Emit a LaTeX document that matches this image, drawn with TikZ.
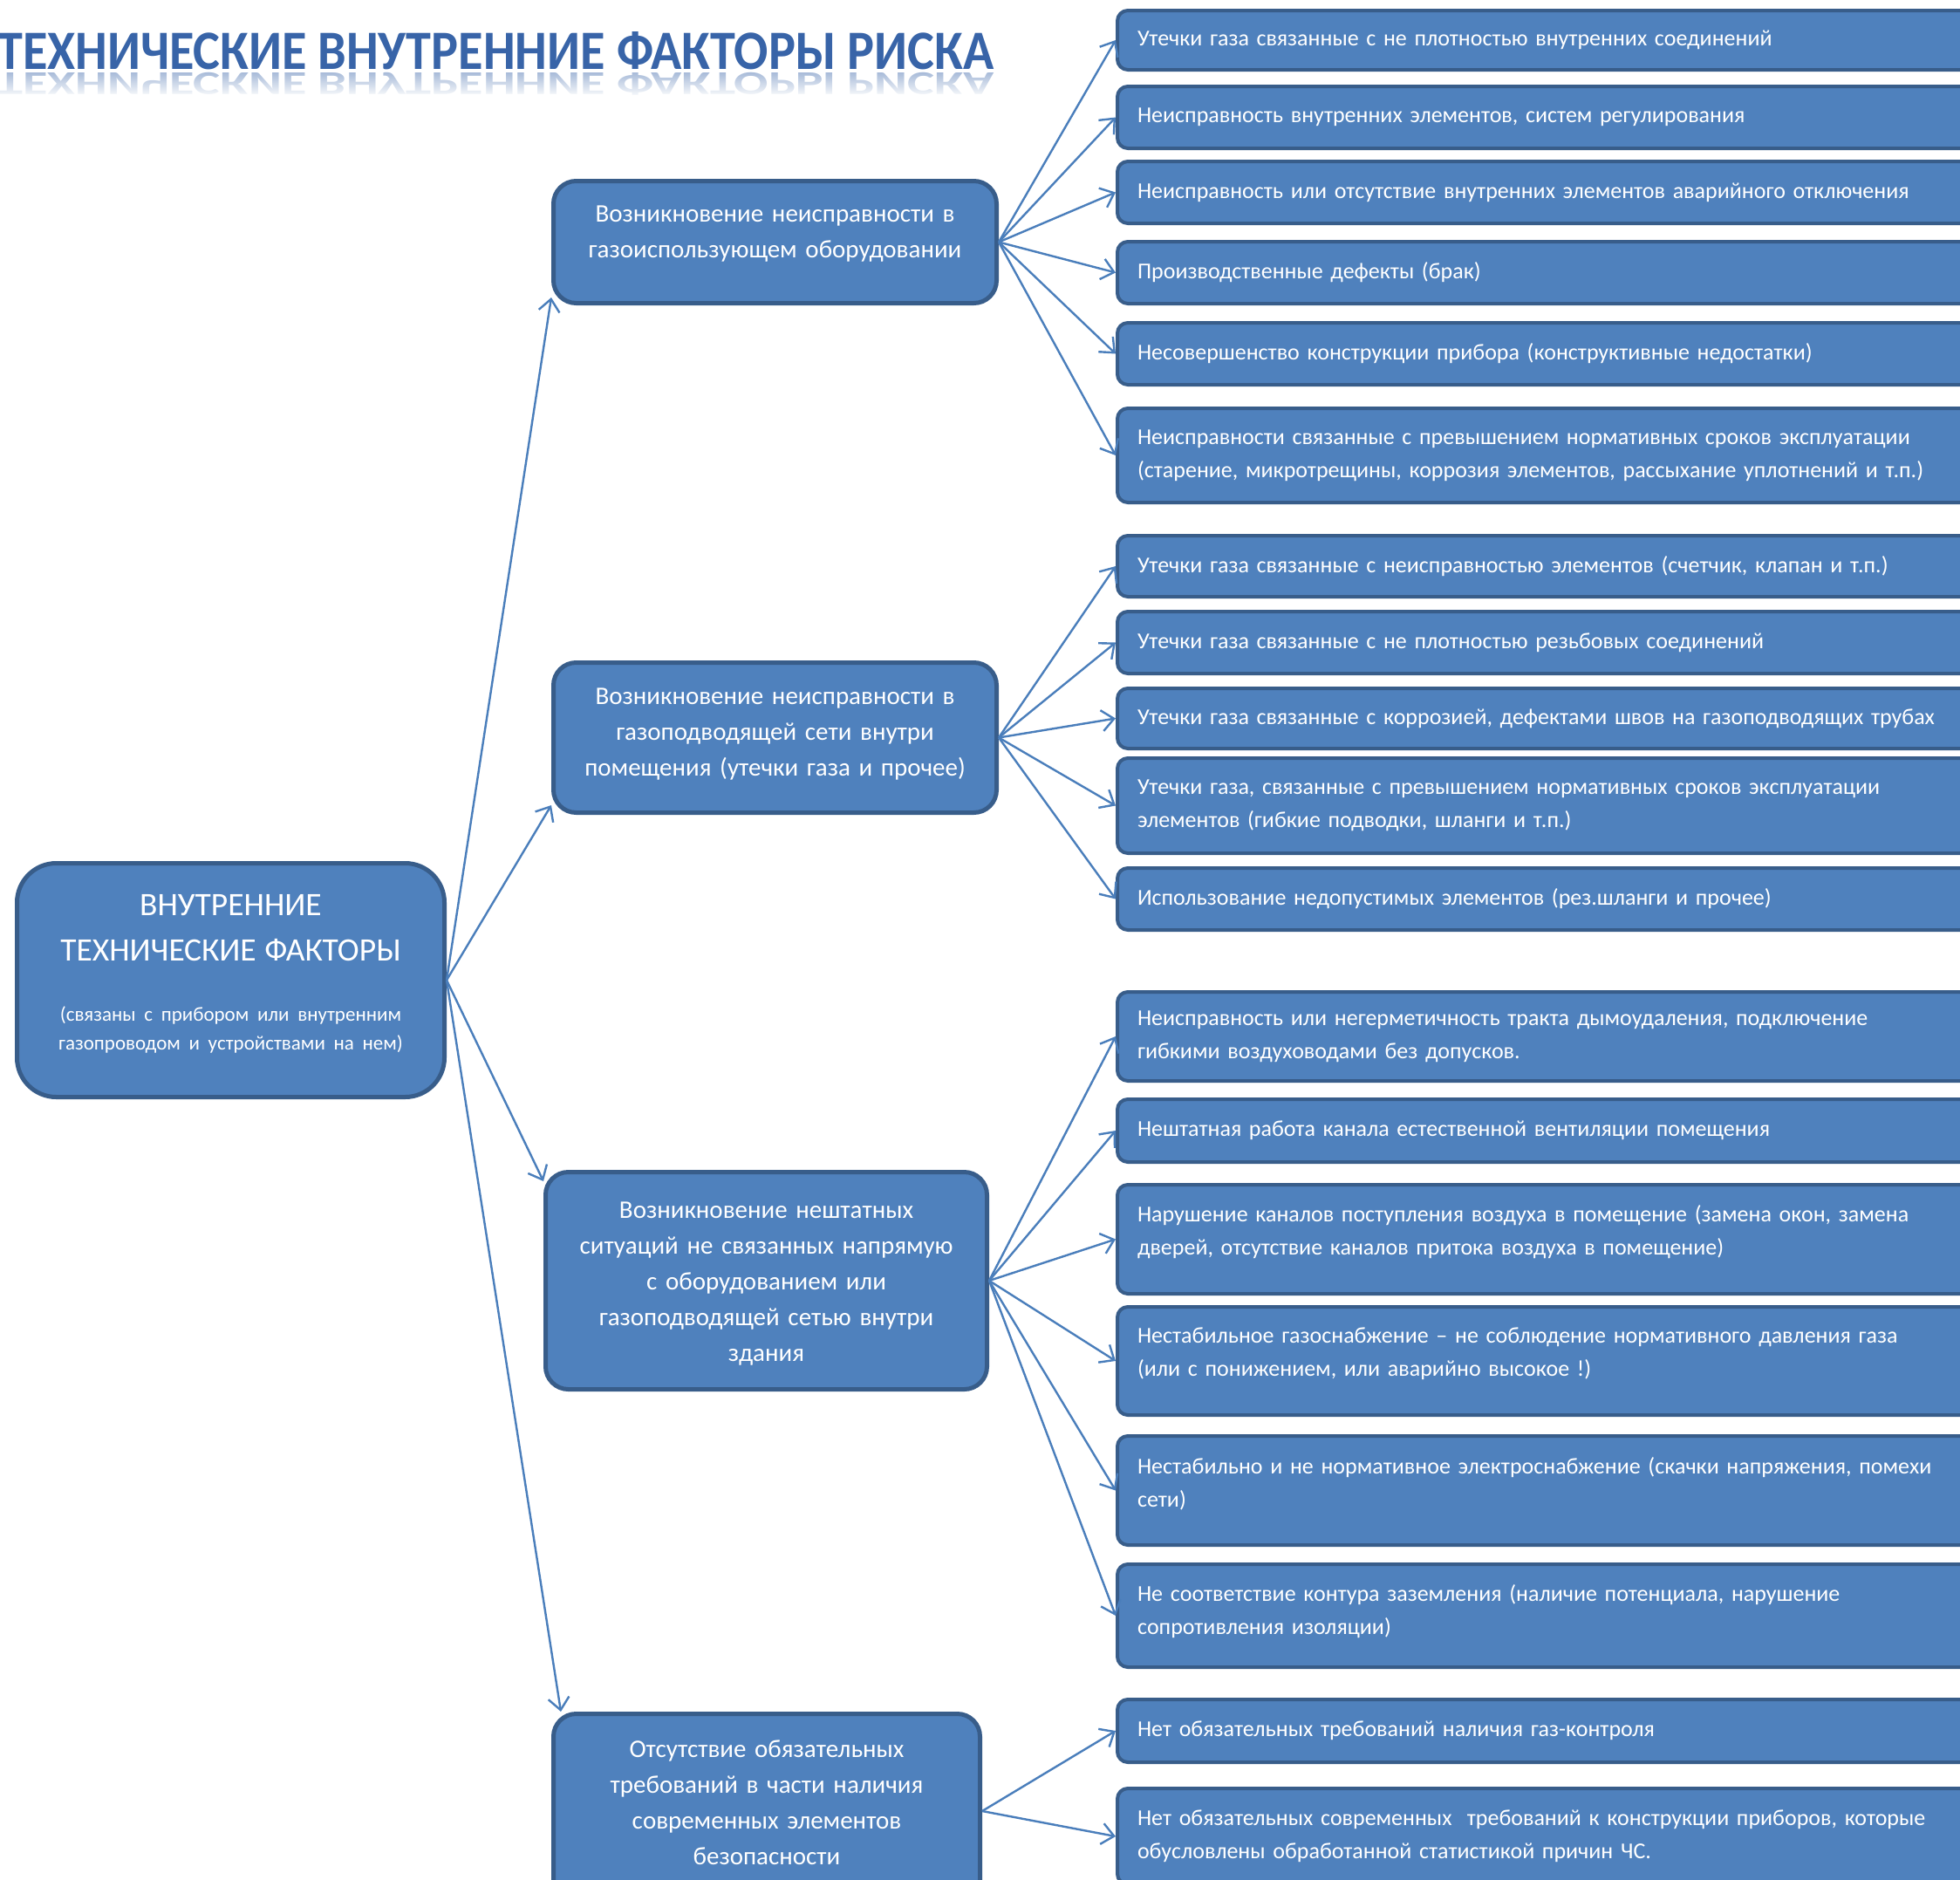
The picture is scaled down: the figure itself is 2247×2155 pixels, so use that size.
\documentclass[tikz,border=0pt]{standalone}
\usepackage{fontspec}
\setmainfont{Carlito}
\usetikzlibrary{arrows.meta,fadings}
\definecolor{boxfill}{RGB}{79,129,189}
\definecolor{boxdraw}{RGB}{56,93,138}
\definecolor{connc}{RGB}{74,126,187}
\definecolor{titleblue}{RGB}{56,100,168}
\tikzfading[name=reflfade, top color=transparent!100, bottom color=transparent!0]
\begin{document}
\begin{tikzpicture}[x=1pt,y=-1pt,
  rbox/.style={draw=boxdraw, fill=boxfill, line width=4pt, rounded corners=12pt,
    text=white, anchor=north west, align=left, text width=960pt,
    inner xsep=23pt, inner ysep=0pt, font=\fontsize{26}{38}\selectfont},
  mbox/.style={draw=boxdraw, fill=boxfill, line width=5pt, rounded corners=26pt,
    text=white, anchor=north west, align=center, inner sep=0pt,
    font=\fontsize{29}{41}\selectfont},
  link/.style={draw=connc, line width=2.4pt, -{Straight Barb[length=14pt,width=24pt]}}
]
\useasboundingbox (0,0) rectangle (2247,2155);
\begin{scope}
\clip (0,0) rectangle (2247,2155);

% title with its reflection
\node[anchor=base west, inner sep=0pt, text=titleblue] (title) at (-3,79)
  {\resizebox{1142pt}{43pt}{\bfseries ТЕХНИЧЕСКИЕ ВНУТРЕННИЕ ФАКТОРЫ РИСКА}};
\node[anchor=north west, inner sep=0pt, text=titleblue!45] (titlerefl) at (-3,83)
  {\scalebox{1}[-0.6]{\resizebox{1142pt}{43pt}{\bfseries ТЕХНИЧЕСКИЕ ВНУТРЕННИЕ ФАКТОРЫ РИСКА}}};
\fill[white, path fading=reflfade] (-10,82) rectangle (1160,112);

% root
\node[mbox, rounded corners=45pt, minimum width=490pt, minimum height=268pt, text width=470pt] (root) at (17,987)
  {{\fontsize{37.5}{52}\selectfont ВНУТРЕННИЕ\\ТЕХНИЧЕСКИЕ ФАКТОРЫ\par}\vspace{36pt}%
   {\fontsize{23}{33}\selectfont (связаны с прибором или внутренним\\газопроводом и устройствами на нем)\par}\vspace{14pt}};

% middle level
\node[mbox, minimum width=508pt, minimum height=140pt, text width=480pt] (m1) at (632,205)
  {Возникновение неисправности в\\газоиспользующем оборудовании\par\vspace{18pt}};
\node[mbox, minimum width=508pt, minimum height=172pt, text width=480pt] (m2) at (632,757)
  {Возникновение неисправности в\\газоподводящей сети внутри\\помещения (утечки газа и прочее)\par\vspace{8pt}};
\node[mbox, minimum width=506pt, minimum height=249pt, text width=480pt] (m3) at (623,1341)
  {Возникновение нештатных\\ситуаций не связанных напрямую\\с оборудованием или\\газоподводящей сетью внутри\\здания\par\vspace{-8pt}};
\node[mbox, minimum width=489pt, minimum height=223pt, text width=470pt] (m4) at (632,1962)
  {Отсутствие обязательных\\требований в части наличия\\современных элементов\\безопасности\par\vspace{20pt}};

% right level
\node[rbox, minimum height=68pt]  (r1)  at (1279,10)   {Утечки газа связанные с не плотностью внутренних соединений};
\node[rbox, minimum height=71pt]  (r2)  at (1279,97)   {Неисправность внутренних элементов, систем регулирования};
\node[rbox, minimum height=71pt]  (r3)  at (1279,183)  {Неисправность или отсутствие внутренних элементов аварийного отключения};
\node[rbox, minimum height=71pt]  (r4)  at (1279,275)  {Производственные дефекты (брак)};
\node[rbox, minimum height=71pt]  (r5)  at (1279,368)  {Несовершенство конструкции прибора (конструктивные недостатки)};
\node[rbox, minimum height=108pt] (r6)  at (1279,466)  {Неисправности связанные с превышением нормативных сроков эксплуатации\\(старение, микротрещины, коррозия элементов, рассыхание уплотнений и т.п.)};
\node[rbox, minimum height=70pt]  (r7)  at (1279,612)  {Утечки газа связанные с неисправностью элементов (счетчик, клапан и т.п.)};
\node[rbox, minimum height=71pt]  (r8)  at (1279,699)  {Утечки газа связанные с не плотностью резьбовых соединений};
\node[rbox, minimum height=69pt]  (r9)  at (1279,787)  {Утечки газа связанные с коррозией, дефектами швов на газоподводящих трубах};
\node[rbox, minimum height=109pt] (r10) at (1279,867)  {Утечки газа, связанные с превышением нормативных сроков эксплуатации\\элементов (гибкие подводки, шланги и т.п.)};
\node[rbox, minimum height=71pt]  (r11) at (1279,993)  {Использование недопустимых элементов (рез.шланги и прочее)};
\node[rbox, minimum height=102pt] (r12) at (1279,1135) {Неисправность или негерметичность тракта дымоудаления, подключение\\гибкими воздуховодами без допусков.};
\node[rbox, minimum height=72pt]  (r13) at (1279,1258) {Нештатная работа канала естественной вентиляции помещения};
\node[rbox, minimum height=125pt] (r14) at (1279,1356) {Нарушение каналов поступления воздуха в помещение (замена окон, замена\\дверей, отсутствие каналов притока воздуха в помещение)\par\vspace{16pt}};
\node[rbox, minimum height=124pt] (r15) at (1279,1496) {Нестабильное газоснабжение – не соблюдение нормативного давления газа\\(или с понижением, или аварийно высокое !)\par\vspace{16pt}};
\node[rbox, minimum height=125pt] (r16) at (1279,1644) {Нестабильно и не нормативное электроснабжение (скачки напряжения, помехи\\сети)\par\vspace{16pt}};
\node[rbox, minimum height=118pt] (r17) at (1279,1791) {Не соответствие контура заземления (наличие потенциала, нарушение\\сопротивления изоляции)\par\vspace{10pt}};
\node[rbox, minimum height=72pt]  (r18) at (1279,1946) {Нет обязательных требований наличия газ-контроля};
\node[rbox, minimum height=110pt] (r19) at (1279,2048) {Нет обязательных современных\ \ требований к конструкции приборов, которые\\обусловлены обработанной статистикой причин ЧС.};

% connectors from root
\draw[link] (root.east) -- ([yshift=9pt]m1.south west);
\draw[link] (root.east) -- ([yshift=11pt]m2.south west);
\draw[link] (root.east) -- ([yshift=-13pt]m3.north west);
\draw[link] (root.east) -- ([xshift=11pt]m4.north west);

% connectors from middle level
\foreach \r in {r1,r2,r3,r4,r5,r6} {\draw[link] (m1.east) -- (\r.west);}
\foreach \r in {r7,r8,r9,r10,r11} {\draw[link] (m2.east) -- (\r.west);}
\foreach \r in {r12,r13,r14,r15,r16,r17} {\draw[link] (m3.east) -- (\r.west);}
\foreach \r in {r18,r19} {\draw[link] (m4.east) -- (\r.west);}
\end{scope}
\end{tikzpicture}
\end{document}
